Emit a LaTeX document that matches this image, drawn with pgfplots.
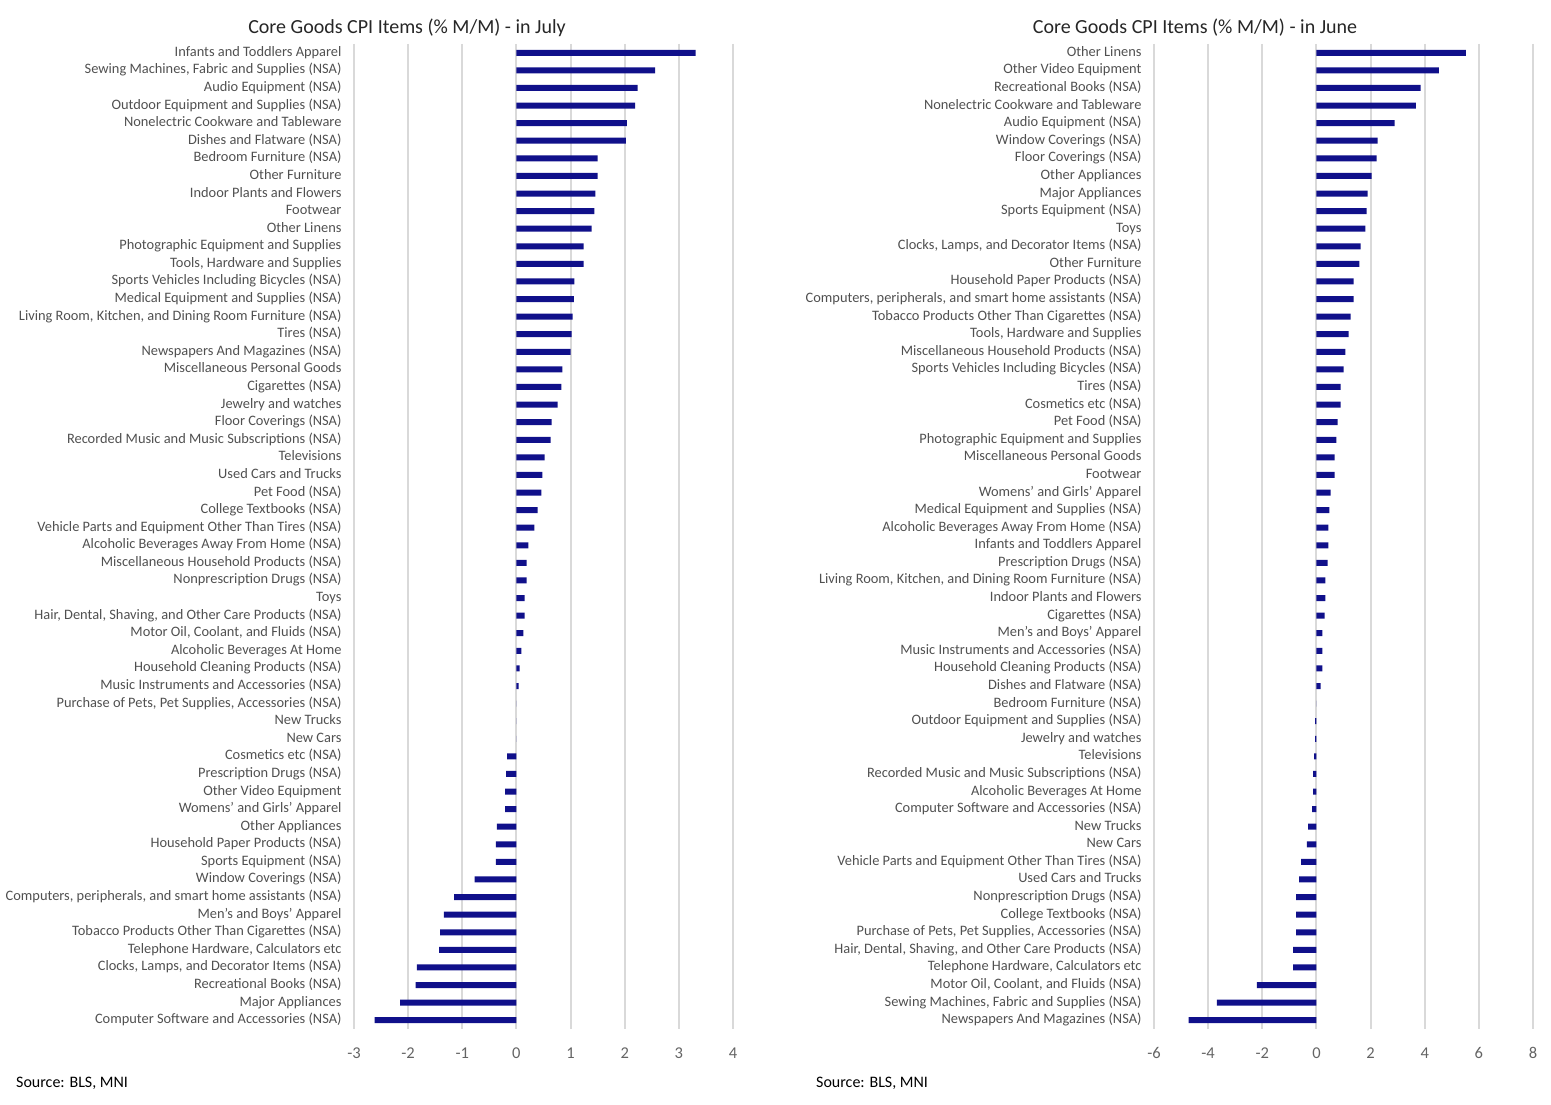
\documentclass[border=0pt]{standalone}
\usepackage{pgfplots}
\usepackage{pgfplotstable}
\pgfplotsset{compat=1.18}
\usepackage{fontspec}
\setmainfont{Carlito}
\definecolor{barblue}{RGB}{16,16,138}
\definecolor{gridgray}{RGB}{217,217,217}
\definecolor{labgray}{RGB}{80,80,80}
\definecolor{tickgray}{RGB}{100,100,100}

\pgfplotstableread[col sep=semicolon]{
idx;val;label
0;3.31;Infants and Toddlers Apparel
1;2.56;Sewing Machines, Fabric and Supplies (NSA)
2;2.24;Audio Equipment (NSA)
3;2.19;Outdoor Equipment and Supplies (NSA)
4;2.04;Nonelectric Cookware and Tableware
5;2.02;Dishes and Flatware (NSA)
6;1.50;Bedroom Furniture (NSA)
7;1.50;Other Furniture
8;1.46;Indoor Plants and Flowers
9;1.44;Footwear
10;1.39;Other Linens
11;1.24;Photographic Equipment and Supplies
12;1.24;Tools, Hardware and Supplies
13;1.07;Sports Vehicles Including Bicycles (NSA)
14;1.06;Medical Equipment and Supplies (NSA)
15;1.04;Living Room, Kitchen, and Dining Room Furniture (NSA)
16;1.02;Tires (NSA)
17;1.00;Newspapers And Magazines (NSA)
18;0.85;Miscellaneous Personal Goods
19;0.83;Cigarettes (NSA)
20;0.76;Jewelry and watches
21;0.65;Floor Coverings (NSA)
22;0.63;Recorded Music and Music Subscriptions (NSA)
23;0.52;Televisions
24;0.48;Used Cars and Trucks
25;0.46;Pet Food (NSA)
26;0.39;College Textbooks (NSA)
27;0.33;Vehicle Parts and Equipment Other Than Tires (NSA)
28;0.22;Alcoholic Beverages Away From Home (NSA)
29;0.19;Miscellaneous Household Products (NSA)
30;0.19;Nonprescription Drugs (NSA)
31;0.15;Toys
32;0.15;Hair, Dental, Shaving, and Other Care Products (NSA)
33;0.13;Motor Oil, Coolant, and Fluids (NSA)
34;0.09;Alcoholic Beverages At Home
35;0.06;Household Cleaning Products (NSA)
36;0.04;Music Instruments and Accessories (NSA)
37;0.00;Purchase of Pets, Pet Supplies, Accessories (NSA)
38;0.00;New Trucks
39;0.00;New Cars
40;-0.17;Cosmetics etc (NSA)
41;-0.19;Prescription Drugs (NSA)
42;-0.21;Other Video Equipment
43;-0.21;Womens' and Girls' Apparel
44;-0.36;Other Appliances
45;-0.38;Household Paper Products (NSA)
46;-0.38;Sports Equipment (NSA)
47;-0.77;Window Coverings (NSA)
48;-1.15;Computers, peripherals, and smart home assistants (NSA)
49;-1.34;Men's and Boys' Apparel
50;-1.41;Tobacco Products Other Than Cigarettes (NSA)
51;-1.43;Telephone Hardware, Calculators etc
52;-1.84;Clocks, Lamps, and Decorator Items (NSA)
53;-1.86;Recreational Books (NSA)
54;-2.15;Major Appliances
55;-2.62;Computer Software and Accessories (NSA)
}\julydata

\pgfplotstableread[col sep=semicolon]{
idx;val;label
0;5.52;Other Linens
1;4.52;Other Video Equipment
2;3.85;Recreational Books (NSA)
3;3.67;Nonelectric Cookware and Tableware
4;2.89;Audio Equipment (NSA)
5;2.26;Window Coverings (NSA)
6;2.22;Floor Coverings (NSA)
7;2.04;Other Appliances
8;1.89;Major Appliances
9;1.85;Sports Equipment (NSA)
10;1.81;Toys
11;1.63;Clocks, Lamps, and Decorator Items (NSA)
12;1.59;Other Furniture
13;1.37;Household Paper Products (NSA)
14;1.37;Computers, peripherals, and smart home assistants (NSA)
15;1.26;Tobacco Products Other Than Cigarettes (NSA)
16;1.19;Tools, Hardware and Supplies
17;1.07;Miscellaneous Household Products (NSA)
18;1.00;Sports Vehicles Including Bicycles (NSA)
19;0.89;Tires (NSA)
20;0.89;Cosmetics etc (NSA)
21;0.78;Pet Food (NSA)
22;0.74;Photographic Equipment and Supplies
23;0.67;Miscellaneous Personal Goods
24;0.67;Footwear
25;0.52;Womens' and Girls' Apparel
26;0.48;Medical Equipment and Supplies (NSA)
27;0.44;Alcoholic Beverages Away From Home (NSA)
28;0.44;Infants and Toddlers Apparel
29;0.41;Prescription Drugs (NSA)
30;0.33;Living Room, Kitchen, and Dining Room Furniture (NSA)
31;0.33;Indoor Plants and Flowers
32;0.30;Cigarettes (NSA)
33;0.22;Men's and Boys' Apparel
34;0.22;Music Instruments and Accessories (NSA)
35;0.22;Household Cleaning Products (NSA)
36;0.15;Dishes and Flatware (NSA)
37;0.00;Bedroom Furniture (NSA)
38;-0.05;Outdoor Equipment and Supplies (NSA)
39;-0.05;Jewelry and watches
40;-0.09;Televisions
41;-0.12;Recorded Music and Music Subscriptions (NSA)
42;-0.12;Alcoholic Beverages At Home
43;-0.16;Computer Software and Accessories (NSA)
44;-0.31;New Trucks
45;-0.35;New Cars
46;-0.57;Vehicle Parts and Equipment Other Than Tires (NSA)
47;-0.64;Used Cars and Trucks
48;-0.75;Nonprescription Drugs (NSA)
49;-0.75;College Textbooks (NSA)
50;-0.75;Purchase of Pets, Pet Supplies, Accessories (NSA)
51;-0.86;Hair, Dental, Shaving, and Other Care Products (NSA)
52;-0.86;Telephone Hardware, Calculators etc
53;-2.20;Motor Oil, Coolant, and Fluids (NSA)
54;-3.68;Sewing Machines, Fabric and Supplies (NSA)
55;-4.72;Newspapers And Magazines (NSA)
}\junedata

\pgfplotsset{
  cpistyle/.style={
    xbar, bar width=6pt,
    scale only axis, width=379pt, height=985pt,
    ymin=-0.5, ymax=55.5, y dir=reverse,
    ytick={0,...,55},
    axis line style={draw=none},
    major tick length=0pt,
    xmajorgrids, ymajorgrids=false,
    major grid style={draw=gridgray, line width=2pt},
    /pgf/number format/assume math mode=true,
    xticklabel style={font=\fontsize{16.5}{19}\selectfont, text=tickgray, yshift=-15pt},
    yticklabel style={font=\fontsize{14.4}{16}\selectfont, text=labgray, xshift=-9pt,
      text height=10pt, text depth=3pt},
    clip=false,
  }
}

\begin{document}
\begin{tikzpicture}[x=1pt,y=1pt]
\path[use as bounding box] (0,0) rectangle (1551,1105);

\begin{axis}[cpistyle, at={(354pt,76pt)}, anchor=south west,
  xmin=-3, xmax=4, xtick={-3,...,4},
  yticklabels from table={\julydata}{label}]
\addplot[fill=barblue, draw=none] table[x=val, y=idx] {\julydata};
\end{axis}

\begin{axis}[cpistyle, at={(1154pt,76pt)}, anchor=south west,
  xmin=-6, xmax=8, xtick={-6,-4,...,8},
  yticklabels from table={\junedata}{label}]
\addplot[fill=barblue, draw=none] table[x=val, y=idx] {\junedata};
\end{axis}

\node[font=\fontsize{20}{23}\selectfont, text=black!85] at (407,1077) {Core Goods CPI Items (\% M/M) - in July};
\node[font=\fontsize{20}{23}\selectfont, text=black!85] at (1195,1077) {Core Goods CPI Items (\% M/M) - in June};
\node[font=\fontsize{16}{18}\selectfont, anchor=west, inner sep=0pt] at (16,22) {Source: BLS, MNI};
\node[font=\fontsize{16}{18}\selectfont, anchor=west, inner sep=0pt] at (816,22) {Source: BLS, MNI};
\end{tikzpicture}
\end{document}
